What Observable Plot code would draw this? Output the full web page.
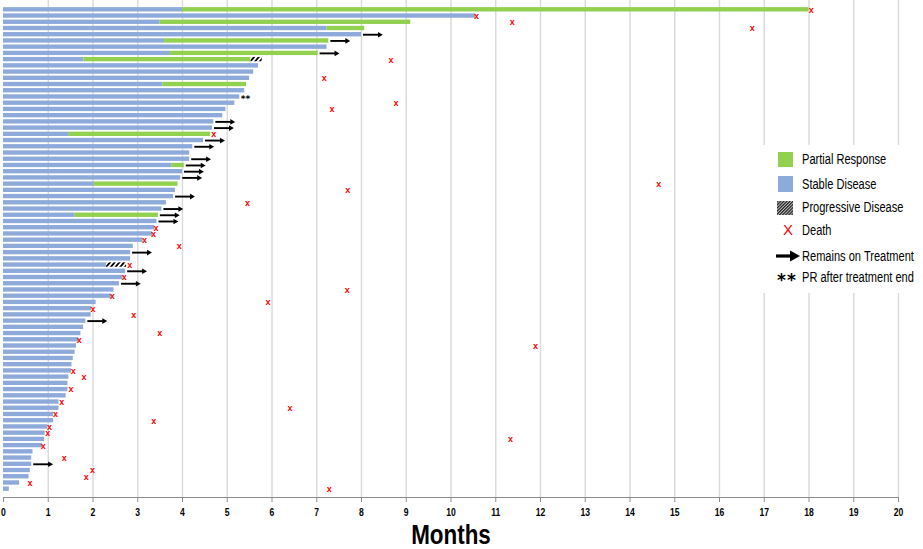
<!DOCTYPE html>
<html>
<head>
<meta charset="utf-8">
<script src="https://cdn.jsdelivr.net/npm/d3@7"></script>
<script src="https://cdn.jsdelivr.net/npm/@observablehq/plot@0.6"></script>
<style>
  body { margin: 0; background: #fff; }
  #wrap { position: relative; width: 923px; height: 549px; overflow: hidden; }
  #legend { position: absolute; left: 762px; top: 145px; width: 161px; height: 148px; background: #fff;
    font-family: "Liberation Sans", Arial, sans-serif; font-size: 14px; color: #000; }
  .lt { position: absolute; left: 40px; height: 16px; line-height: 16px; white-space: nowrap;
    transform: scaleX(0.79); transform-origin: 0 50%; }
  .sw { position: absolute; }
  svg g[aria-label="x-axis tick label"] text, svg g[aria-label="x-axis tick label"] {
    font-family: "Liberation Sans", Arial, sans-serif;
    font-size: 11px; font-weight: bold; fill: #000; }
</style>
</head>
<body>
<svg width="0" height="0" style="position:absolute">
  <defs>
    <pattern id="hatch" patternUnits="userSpaceOnUse" width="3.6" height="3.6" patternTransform="rotate(40)">
      <rect width="3.6" height="3.6" fill="#fff"></rect>
      <line x1="0.9" y1="0" x2="0.9" y2="3.6" stroke="#000" stroke-width="1.8"></line>
    </pattern>
    <pattern id="hatchLegend" patternUnits="userSpaceOnUse" width="2.2" height="2.2" patternTransform="rotate(45)">
      <rect width="2.2" height="2.2" fill="#bbb"></rect>
      <line x1="0.6" y1="0" x2="0.6" y2="2.2" stroke="#222" stroke-width="1.2"></line>
    </pattern>
  </defs>
</svg>
<div id="wrap">
  <div id="chart"></div>
  <div id="legend">
    <div class="sw" style="left:16px;top:7px;width:15px;height:15px;background:#92d050"></div>
    <div class="lt" style="top:6px">Partial Response</div>
    <div class="sw" style="left:16px;top:31px;width:15px;height:16px;background:#8eaadb"></div>
    <div class="lt" style="top:31px">Stable Disease</div>
    <svg class="sw" style="left:15px;top:56px" width="16" height="14"><rect width="16" height="14" fill="url(#hatchLegend)"></rect></svg>
    <div class="lt" style="top:54px">Progressive Disease</div>
    <div class="sw" style="left:21px;top:77px;width:14px;height:16px;line-height:16px;color:#ff0000;font-size:15px;font-family:'Liberation Sans',sans-serif;">X</div>
    <div class="lt" style="top:77px">Death</div>
    <svg class="sw" style="left:13px;top:104px" width="28" height="14">
      <line x1="1" y1="7" x2="17" y2="7" stroke="#000" stroke-width="3.2"></line>
      <polygon points="15,1.5 25,7 15,12.5" fill="#000"></polygon>
    </svg>
    <div class="lt" style="top:103px">Remains on Treatment</div>
    <div class="sw" style="left:15px;top:124px;height:16px;line-height:22px;font-size:17px;font-weight:bold;font-family:'DejaVu Sans',sans-serif;letter-spacing:1px;">**</div>
    <div class="lt" style="top:124px">PR after treatment end</div>
  </div>
</div>
<script>
// x-axis ticks (months)
const xTicks = [0, 1, 2, 3, 4, 5, 6, 7, 8, 9, 10, 11, 12, 13, 14, 15, 16, 17, 18, 19, 20];

// End of the blue (stable disease) segment for each patient row, top to bottom (starts at 0)
const stableEnd = [
  4.0, 10.55, 3.5, 7.23, 8.0, 3.6, 7.23, 3.73, 1.8, 5.7,
  5.59, 5.5, 3.56, 5.39, 5.28, 5.17, 4.97, 4.9, 4.7, 4.67,
  1.47, 4.47, 4.23, 4.16, 4.16, 3.76, 4.0, 3.96, 2.03, 3.84,
  3.8, 3.64, 3.54, 1.6, 3.43, 3.38, 3.33, 3.12, 2.9, 2.84,
  2.84, 2.3, 2.73, 2.67, 2.59, 2.47, 2.41, 2.07, 1.97, 1.96,
  1.84, 1.79, 1.73, 1.68, 1.63, 1.6, 1.56, 1.53, 1.52, 1.46,
  1.44, 1.44, 1.4, 1.24, 1.24, 1.12, 1.12, 0.99, 0.93, 0.92,
  0.87, 0.66, 0.63, 0.63, 0.6, 0.57, 0.36, 0.13
];

// Partial response segments: [row, start, end]
const partialResponse = [
  [1, 4.0, 18.0], [3, 3.5, 9.1], [4, 7.23, 8.07], [6, 3.6, 7.27], [8, 3.73, 7.03],
  [9, 1.8, 5.53], [13, 3.56, 5.43], [21, 1.47, 4.63], [26, 3.76, 4.04],
  [29, 2.03, 3.9], [34, 1.6, 3.46]
];

// Progressive disease segments: [row, start, end]
const progressiveDisease = [[9, 5.53, 5.78], [42, 2.3, 2.75]];

// Deaths: [row, month]
const deaths = [
  [1, 18.05], [2, 10.57], [3, 11.37], [4, 16.73], [9, 8.66], [12, 7.17], [16, 8.77], [17, 7.34],
  [21, 4.7], [29, 14.64], [30, 7.69], [32, 5.45], [36, 3.41], [37, 3.35], [38, 3.15], [39, 3.93],
  [42, 2.82], [44, 2.7], [46, 7.68], [47, 2.43], [48, 5.91], [49, 2.0], [50, 2.91], [53, 3.49],
  [54, 1.69], [55, 11.89], [59, 1.56], [60, 1.8], [62, 1.51], [64, 1.3], [65, 6.4], [66, 1.16],
  [67, 3.36], [68, 1.03], [69, 0.99], [70, 11.33], [71, 0.89], [73, 1.36], [75, 1.99], [76, 1.85],
  [77, 0.59], [78, 7.28]
];

// Rows that remain on treatment (arrow)
const onTreatment = [5, 6, 8, 19, 20, 22, 23, 25, 26, 27, 28, 31, 33, 34, 35, 40, 43, 45, 51, 74];

// PR after treatment end: [row, month]
const prAfterEnd = [[15, 5.28]];

// ---- tables built from the arrays ----
const rowIds = stableEnd.map((d, i) => i + 1);
const sdTable = stableEnd.map((e, i) => ({row: i + 1, start: 0, end: e}));
const prTable = partialResponse.map(([row, start, end]) => ({row, start, end}));
const pdTable = progressiveDisease.map(([row, start, end]) => ({row, start, end}));
const deathTable = deaths.map(([row, at]) => ({row, at}));
const totalEnd = row => Math.max(
  stableEnd[row - 1],
  ...partialResponse.filter(d => d[0] === row).map(d => d[2]),
  ...progressiveDisease.filter(d => d[0] === row).map(d => d[2])
);
const arrowTable = onTreatment.map(row => {
  const from = totalEnd(row) + 0.045;
  return {row, from, to: from + 0.36};
});
const starTable = prAfterEnd.map(([row, at]) => ({row, at}));

const chart = Plot.plot({
  width: 923,
  height: 549,
  marginLeft: 3,
  marginRight: 25,
  marginTop: 0,
  marginBottom: 52,
  style: {background: "#fff", color: "#8c8c8c", fontFamily: "'Liberation Sans', Arial, sans-serif"},
  x: {domain: [0, 20], ticks: xTicks, tickSize: 5, tickPadding: 6, line: true, label: null, tickFormat: d => String(d)},
  y: {type: "band", domain: rowIds, paddingInner: 0.3, paddingOuter: 1.065, align: 0.538, round: false, axis: null},
  marks: [
    Plot.gridX(xTicks.slice(1), {stroke: "#d9d9d9", strokeOpacity: 1, strokeWidth: 1.4}),
    Plot.barX(sdTable, {x1: "start", x2: "end", y: "row", fill: "#8eaadb"}),
    Plot.barX(prTable, {x1: "start", x2: "end", y: "row", fill: "#92d050"}),
    Plot.barX(pdTable, {x1: "start", x2: "end", y: "row", fill: "url(#hatch)"}),
    Plot.ruleY(arrowTable, {y: "row", x1: "from", x2: "to", stroke: "#000", strokeWidth: 1.9}),
    Plot.dot(arrowTable, {x: "to", y: "row", symbol: "triangle", rotate: 90, r: 2.1, fill: "#000", stroke: null}),
    Plot.text(deathTable, {x: "at", y: "row", text: () => "x", fill: "#ff0000", fontSize: 9, fontWeight: "bold", fontFamily: "'Liberation Sans', sans-serif"}),
    Plot.text(starTable, {x: "at", y: "row", text: () => "**", textAnchor: "start", dx: 1, dy: 2, fill: "#000", fontSize: 9, fontWeight: "bold", fontFamily: "'DejaVu Sans', sans-serif"}),
    Plot.text(["Months"], {frameAnchor: "bottom", lineAnchor: "middle", dy: 38, text: d => d, fill: "#000", fontSize: 28, fontWeight: "bold", fontFamily: "'Liberation Sans', Arial, sans-serif"})
  ]
});
document.getElementById("chart").appendChild(chart);

// condense text glyphs horizontally (reference uses a condensed font)
function condense(node, factor) {
  const w = node.getComputedTextLength();
  if (w > 0) {
    node.setAttribute("textLength", (w * factor).toFixed(2));
    node.setAttribute("lengthAdjust", "spacingAndGlyphs");
  }
}
d3.select(chart).selectAll('g[aria-label="x-axis tick label"] text').each(function() { condense(this, 0.78); });
d3.select(chart).selectAll("text").filter(function() { return this.textContent === "Months"; }).each(function() { condense(this, 0.8); });
</script>
</body>
</html>
